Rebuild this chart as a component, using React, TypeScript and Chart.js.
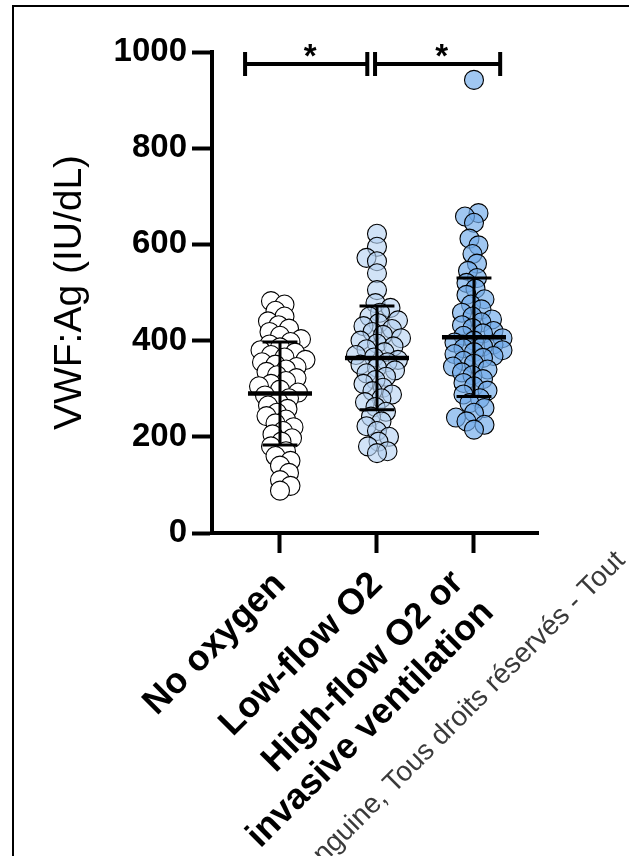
import React, { useEffect, useRef } from 'react';
import { Chart, registerables } from 'chart.js';

Chart.register(...registerables);

// ---------- data ----------
const CATEGORIES: string[][] = [['No oxygen'], ['Low-flow O2'], ['High-flow O2 or', 'invasive ventilation']];

const NO_OXYGEN = [
  482, 475, 462, 450, 440, 432, 425, 418, 410, 403, 397, 392, 386, 380, 375, 370, 365, 360, 355, 350,
  345, 340, 335, 328, 322, 316, 310, 305, 298, 292, 286, 280, 272, 265, 258, 250, 243, 236, 228, 220,
  212, 205, 197, 190, 180, 170, 160, 150, 140, 125, 110, 98, 88,
];
const LOW_FLOW = [
  622, 595, 572, 565, 540, 505, 478, 468, 458, 450, 442, 436, 430, 424, 418, 412, 405, 400, 394, 388,
  382, 376, 370, 365, 360, 355, 350, 344, 338, 332, 325, 318, 310, 302, 295, 288, 280, 272, 262, 252,
  242, 232, 222, 212, 200, 190, 180, 170, 166,
];
const HIGH_FLOW = [
  942, 665, 658, 645, 612, 598, 580, 560, 545, 530, 520, 508, 495, 486, 475, 465, 458, 450, 444, 438,
  432, 426, 420, 415, 410, 405, 400, 396, 392, 388, 384, 380, 376, 372, 368, 364, 358, 352, 346, 340,
  334, 328, 320, 312, 305, 296, 288, 280, 270, 260, 250, 240, 232, 225, 215,
];
const MEANS = [290, 364, 407];
const SDS = [107, 108, 123];
const Y_TICKS = [0, 200, 400, 600, 800, 1000];
const Y_TITLE = 'VWF:Ag (IU/dL)';
const SIGNIF_LABELS = ['*', '*'];
const WATERMARK_HIDDEN = 'Sanguine, ';
const WATERMARK_VISIBLE = 'Tous droits réservés - Tout';

// ---------- styles ----------
const FONT = "'Liberation Sans', Arial, Helvetica, sans-serif";
const FILLS = ['#ffffff', 'rgba(180,210,242,0.62)', 'rgba(115,172,235,0.68)'];
const GROUPS = [NO_OXYGEN, LOW_FLOW, HIGH_FLOW];
const BRACKETS = [
  [-0.36, 0.9],
  [0.98, 2.27],
];
const PX_PER_CAT = 97;
const PX_PER_VAL = 0.481;

function swarmOffsets(values: number[]): number[] {
  const placed: { x: number; y: number }[] = [];
  const out: number[] = new Array(values.length).fill(0);
  const order = values.map((_, i) => i).sort((a, b) => values[a] - values[b]);
  const minD = 10.5;
  const maxPx = 30;
  order.forEach((idx, k) => {
    const y = values[idx] * PX_PER_VAL;
    let best = 0;
    let bestScore = -1;
    let done = false;
    for (let step = 0; step <= maxPx && !done; step += 1.5) {
      const cands = step === 0 ? [0] : k % 2 ? [step, -step] : [-step, step];
      for (const s of cands) {
        let md = Infinity;
        for (const p of placed) {
          const d = Math.hypot(p.x - s, p.y - y);
          if (d < md) md = d;
        }
        if (md >= minD) {
          best = s;
          done = true;
          break;
        }
        if (md > bestScore) {
          bestScore = md;
          best = s;
        }
      }
    }
    placed.push({ x: best, y });
    out[idx] = best / PX_PER_CAT;
  });
  return out;
}

const overlayPlugin = {
  id: 'overlay',
  afterDatasetsDraw(chart: any) {
    const { ctx } = chart;
    const xs = chart.scales.x;
    const ys = chart.scales.y;
    ctx.save();
    ctx.strokeStyle = '#000';
    ctx.lineCap = 'butt';
    // mean & SD
    MEANS.forEach((m, i) => {
      const sd = SDS[i];
      const cx = xs.getPixelForValue(i);
      ctx.lineWidth = 3;
      ctx.beginPath();
      ctx.moveTo(cx, ys.getPixelForValue(m - sd));
      ctx.lineTo(cx, ys.getPixelForValue(m + sd));
      [m - sd, m + sd].forEach((v) => {
        ctx.moveTo(xs.getPixelForValue(i - 0.18), ys.getPixelForValue(v));
        ctx.lineTo(xs.getPixelForValue(i + 0.18), ys.getPixelForValue(v));
      });
      ctx.stroke();
      ctx.lineWidth = 4.5;
      ctx.beginPath();
      ctx.moveTo(xs.getPixelForValue(i - 0.33), ys.getPixelForValue(m));
      ctx.lineTo(xs.getPixelForValue(i + 0.33), ys.getPixelForValue(m));
      ctx.stroke();
    });
    // significance brackets
    ctx.lineWidth = 4;
    BRACKETS.forEach(([a, b], k) => {
      const yl = ys.getPixelForValue(975);
      const x1 = xs.getPixelForValue(a);
      const x2 = xs.getPixelForValue(b);
      ctx.beginPath();
      ctx.moveTo(x1, yl);
      ctx.lineTo(x2, yl);
      ctx.moveTo(x1, yl - 12);
      ctx.lineTo(x1, yl + 12);
      ctx.moveTo(x2, yl - 12);
      ctx.lineTo(x2, yl + 12);
      ctx.stroke();
      ctx.fillStyle = '#000';
      ctx.font = `bold 33px ${FONT}`;
      ctx.textAlign = 'center';
      ctx.textBaseline = 'alphabetic';
      ctx.fillText(SIGNIF_LABELS[k], (x1 + x2) / 2 + 4, yl + 3);
    });
    ctx.restore();
  },
  afterDraw(chart: any) {
    const { ctx } = chart;
    const xs = chart.scales.x;
    ctx.save();
    // x category labels, rotated 45°
    ctx.fillStyle = '#000';
    ctx.font = `bold 36px ${FONT}`;
    ctx.textAlign = 'right';
    ctx.textBaseline = 'alphabetic';
    CATEGORIES.forEach((lines, i) => {
      const px = xs.getPixelForValue(i);
      const n = lines.length;
      lines.forEach((line, k) => {
        const bx = px + 7 - 16 * (n - 1) + 30 * k;
        const by = 586 - 2 * (n - 1) + 30 * k;
        ctx.save();
        ctx.translate(bx, by);
        ctx.rotate(-Math.PI / 4);
        ctx.fillText(line, 0, 0);
        ctx.restore();
      });
    });
    // watermark text
    ctx.fillStyle = '#3a3a3a';
    ctx.font = `28px ${FONT}`;
    ctx.translate(394, 794);
    ctx.rotate(-Math.PI / 4);
    ctx.textAlign = 'right';
    ctx.fillText(WATERMARK_HIDDEN, 0, 0);
    ctx.textAlign = 'left';
    ctx.fillText(WATERMARK_VISIBLE, 0, 0);
    ctx.restore();
    // frame (top and left edges)
    ctx.save();
    ctx.fillStyle = '#000';
    ctx.fillRect(12, 5, 629 - 12, 2);
    ctx.fillRect(12, 5, 2, 856 - 5);
    ctx.restore();
  },
};

export default function App() {
  const ref = useRef<HTMLCanvasElement | null>(null);

  useEffect(() => {
    if (!ref.current) return;
    const datasets = GROUPS.map((vals, i) => {
      const offs = swarmOffsets(vals);
      return {
        type: 'scatter' as const,
        label: CATEGORIES[i].join(' '),
        data: vals.map((v, k) => ({ x: i + offs[k], y: v })),
        pointRadius: 9.5,
        pointHoverRadius: 9.5,
        pointBackgroundColor: FILLS[i],
        pointBorderColor: '#000',
        pointBorderWidth: 1.1,
        showLine: false,
        clip: false as any,
      };
    });

    const chart = new Chart(ref.current, {
      type: 'scatter',
      data: { datasets },
      options: {
        responsive: false,
        animation: false,
        events: [],
        layout: { padding: { top: 52, right: 91, left: 0, bottom: 0 } },
        plugins: { legend: { display: false }, tooltip: { enabled: false }, title: { display: false } },
        scales: {
          x: {
            type: 'linear',
            min: -0.701,
            max: 2.66,
            afterBuildTicks: (s: any) => {
              s.ticks = CATEGORIES.map((_, i) => ({ value: i }));
            },
            afterFit: (s: any) => {
              s.height = 856 - 533;
            },
            ticks: { display: false },
            grid: { drawOnChartArea: false, drawTicks: true, tickLength: 20, tickWidth: 4, tickColor: '#000' },
            border: { display: true, width: 4, color: '#000' },
          },
          y: {
            type: 'linear',
            min: 0,
            max: 1000,
            afterBuildTicks: (s: any) => {
              s.ticks = Y_TICKS.map((v) => ({ value: v }));
            },
            afterFit: (s: any) => {
              s.width = 212;
            },
            ticks: {
              color: '#000',
              padding: 5,
              font: { family: FONT, size: 33, weight: 'bold' },
              callback: (v: any) => String(v),
            },
            grid: { drawOnChartArea: false, drawTicks: true, tickLength: 20, tickWidth: 4, tickColor: '#000' },
            border: { display: true, width: 4, color: '#000' },
            title: {
              display: true,
              text: Y_TITLE,
              color: '#000',
              font: { family: FONT, size: 39, weight: 'normal' },
              padding: { top: 46.6, bottom: 0 },
            },
          },
        },
      },
      plugins: [overlayPlugin],
    } as any);

    return () => chart.destroy();
  }, []);

  return (
    <div style={{ position: 'absolute', left: 0, top: 0, width: 629, height: 856, background: '#fff' }}>
      <canvas ref={ref} width={629} height={856} style={{ display: 'block' }} />
    </div>
  );
}
